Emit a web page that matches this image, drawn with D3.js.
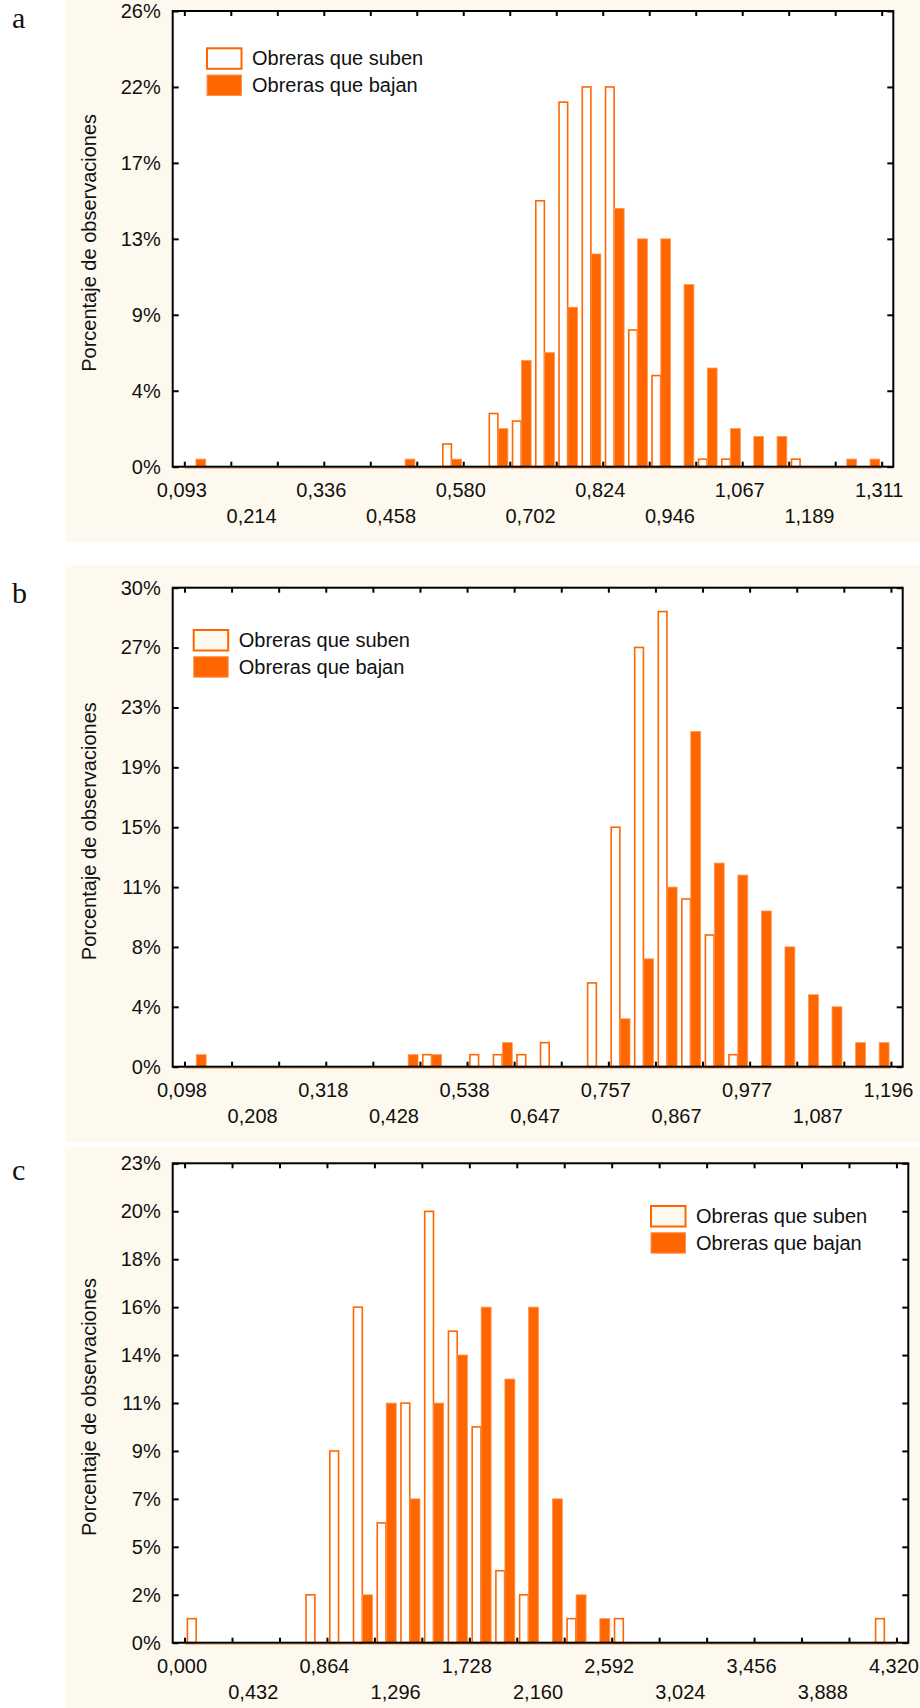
<!DOCTYPE html>
<html>
<head>
<meta charset="utf-8">
<script src="https://cdn.jsdelivr.net/npm/d3@7/dist/d3.min.js"></script>
<style>
  body { margin: 0; background: #fff; }
  svg text { font-family: "Liberation Sans", Arial, sans-serif; fill: #111; }
  .letter { font-family: "Liberation Serif", "Times New Roman", serif; }
</style>
</head>
<body>
<div id="chart"></div>
<script>
// ---- data: 30 bins per panel (two bins per tick interval), % of observations
var seriesNames = ["Obreras que suben", "Obreras que bajan"];
var yTitle = "Porcentaje de observaciones";

var labelsA = ["0,093","0,214","0,336","0,458","0,580","0,702","0,824","0,946","1,067","1,189","1,311"];
var subenA = [0,0,0,0,0,0,0,0,0,0, 0,1.29,0,3.02,2.59,15.09,20.69,21.55,21.55,7.76, 5.17,0,0.43,0.43,0,0,0.43,0,0,0];
var bajanA = [0.43,0,0,0,0,0,0,0,0,0.43, 0,0.43,0,2.16,6.03,6.47,9.05,12.07,14.66,12.93, 12.93,10.34,5.60,2.16,1.72,1.72,0,0,0.43,0.43];
var yMaxA = 25.86, yTicksA = 6;

var labelsB = ["0,098","0,208","0,318","0,428","0,538","0,647","0,757","0,867","0,977","1,087","1,196"];
var subenB = [0,0,0,0,0,0,0,0,0,0, 0.76,0,0.76,0.76,0.76,1.52,0,5.30,15.15,26.52, 28.79,10.61,8.33,0.76,0,0,0,0,0,0];
var bajanB = [0.76,0,0,0,0,0,0,0,0,0.76, 0.76,0,0,1.52,0,0,0,0,3.03,6.82, 11.36,21.21,12.88,12.12,9.85,7.58,4.55,3.79,1.52,1.52];
var yMaxB = 30.30, yTicksB = 8;

var labelsC = ["0,000","0,432","0,864","1,296","1,728","2,160","2,592","3,024","3,456","3,888","4,320"];
var subenC = [1.14,0,0,0,0,2.27,9.09,15.91,5.68,11.36, 20.45,14.77,10.23,3.41,2.27,0,1.14,0,1.14,0, 0,0,0,0,0,0,0,0,0,1.14];
var bajanC = [0,0,0,0,0,0,0,2.27,11.36,6.82, 11.36,13.64,15.91,12.50,15.91,6.82,2.27,1.14,0,0, 0,0,0,0,0,0,0,0,0,0];
var yMaxC = 22.73, yTicksC = 10;

// ---- layout
var orange = "#ff6600", cream = "#fef9ef";
var panels = [
  { letter: "a", labels: labelsA, suben: subenA, bajan: bajanA, yMax: yMaxA, yTicks: yTicksA,
    bg: [65, 0, 855, 542], frame: [172.7, 11, 893.3, 466.7], letterY: 28,
    legend: [206, 47.3], legendFill: "#fff" },
  { letter: "b", labels: labelsB, suben: subenB, bajan: bajanB, yMax: yMaxB, yTicks: yTicksB,
    bg: [65, 565, 855, 577], frame: [172.7, 587.7, 902.7, 1066.7], letterY: 603,
    legend: [192.7, 629], legendFill: cream },
  { letter: "c", labels: labelsC, suben: subenC, bajan: bajanC, yMax: yMaxC, yTicks: yTicksC,
    bg: [65, 1147, 855, 561], frame: [172.7, 1163.3, 908.3, 1642.7], letterY: 1180,
    legend: [650, 1205], legendFill: cream }
];

var svg = d3.select("#chart").append("svg")
    .attr("width", 920)
    .attr("height", 1708);

var fmt = d3.format(".0f");

panels.forEach(function(p){
    var g = svg.append("g");
    var L = p.frame[0], T = p.frame[1], R = p.frame[2], B = p.frame[3];
    var nBins = p.suben.length;

    g.append("rect")
        .attr("x", p.bg[0]).attr("y", p.bg[1])
        .attr("width", p.bg[2]).attr("height", p.bg[3])
        .style("fill", cream);

    g.append("text")
        .attr("class", "letter")
        .attr("x", 12).attr("y", p.letterY)
        .style("font-size", "30px")
        .text(p.letter);

    g.append("rect")
        .attr("x", L).attr("y", T)
        .attr("width", R - L).attr("height", B - T)
        .style("fill", "#fff");

    // bin index scale: bin i spans [i, i+1], quarter tick padding on both sides
    var x = d3.scaleLinear().domain([-0.5, nBins + 0.5]).range([L, R]);
    var y = d3.scaleLinear().domain([0, p.yMax]).range([B, T]);

    var bins = d3.range(nBins);

    // zero bins show as a thin orange trace on the axis
    g.append("g").selectAll("line")
        .data(bins)
        .enter().append("line")
        .attr("x1", function(i){ return x(i); })
        .attr("x2", function(i){ return x(i + 1); })
        .attr("y1", B + 1.5).attr("y2", B + 1.5)
        .style("stroke", "#f3a06b").style("stroke-width", 1);

    g.append("g").selectAll("rect")
        .data(bins.filter(function(i){ return p.suben[i] > 0; }))
        .enter().append("rect")
        .attr("x", function(i){ return x(i + 0.12); })
        .attr("y", function(i){ return y(p.suben[i]); })
        .attr("width", function(i){ return x(i + 0.49) - x(i + 0.12); })
        .attr("height", function(i){ return B - y(p.suben[i]); })
        .style("fill", "#fff")
        .style("stroke", orange)
        .style("stroke-width", 1.6);

    g.append("g").selectAll("rect")
        .data(bins.filter(function(i){ return p.bajan[i] > 0; }))
        .enter().append("rect")
        .attr("x", function(i){ return x(i + 0.5); })
        .attr("y", function(i){ return y(p.bajan[i]); })
        .attr("width", function(i){ return x(i + 0.92) - x(i + 0.5); })
        .attr("height", function(i){ return B - y(p.bajan[i]); })
        .style("fill", orange)
        .style("stroke", "#ff9650")
        .style("stroke-width", 0.8);

    // axes, ticks pointing inwards
    var yVals = d3.range(p.yTicks + 1).map(function(k){ return k * p.yMax / p.yTicks; });
    var xTickVals = d3.range(0, nBins + 1, 2);

    var axes = [
        g.append("g").attr("transform", "translate(" + L + ",0)")
            .call(d3.axisLeft(y).tickValues(yVals).tickSize(-6).tickPadding(12)
                .tickFormat(function(d){ return fmt(d) + "%"; })),
        g.append("g").attr("transform", "translate(" + R + ",0)")
            .call(d3.axisRight(y).tickValues(yVals).tickSize(-6).tickFormat("")),
        g.append("g").attr("transform", "translate(0," + B + ")")
            .call(d3.axisBottom(x).tickValues(xTickVals).tickSize(-5).tickFormat("")),
        g.append("g").attr("transform", "translate(0," + T + ")")
            .call(d3.axisTop(x).tickValues(xTickVals).tickSize(-5).tickFormat(""))
    ];
    axes.forEach(function(a){
        a.select(".domain").remove();
        a.selectAll(".tick line").style("stroke", "#000").style("stroke-width", 2);
        a.selectAll("text").style("font-size", "20px").style("fill", "#111")
            .style("font-family", "\"Liberation Sans\", Arial, sans-serif");
    });

    g.append("rect")
        .attr("x", L).attr("y", T)
        .attr("width", R - L).attr("height", B - T)
        .style("fill", "none").style("stroke", "#000").style("stroke-width", 2);

    // x labels in two staggered rows, one label per 1.5 tick intervals
    var labelPos = p.labels.map(function(d, k){ return 3 * k; });
    [0, 1].forEach(function(row){
        var vals = labelPos.filter(function(d, k){ return k % 2 === row; });
        var ax = g.append("g")
            .attr("transform", "translate(-3," + B + ")")
            .call(d3.axisBottom(x).tickValues(vals).tickSize(0)
                .tickPadding(row === 0 ? 16.5 : 42.5)
                .tickFormat(function(d){ return p.labels[d / 3]; }));
        ax.select(".domain").remove();
        ax.selectAll("text").style("font-size", "20px").style("fill", "#111")
            .style("font-family", "\"Liberation Sans\", Arial, sans-serif");
    });

    g.append("text")
        .attr("transform", "translate(96," + ((T + B) / 2 + 4) + ") rotate(-90)")
        .attr("text-anchor", "middle")
        .style("font-size", "20px")
        .text(yTitle);

    // legend
    var lg = g.append("g").attr("transform", "translate(" + p.legend[0] + "," + p.legend[1] + ")");
    seriesNames.forEach(function(name, k){
        lg.append("rect")
            .attr("x", 1).attr("y", k * 26.7 + 1)
            .attr("width", 34.5).attr("height", 20.5)
            .style("fill", k === 0 ? p.legendFill : orange)
            .style("stroke", k === 0 ? orange : "#ff9650")
            .style("stroke-width", k === 0 ? 2 : 1);
        lg.append("text")
            .attr("x", 46).attr("y", k * 26.7 + 18)
            .style("font-size", "20px")
            .text(name);
    });
});
</script>
</body>
</html>
